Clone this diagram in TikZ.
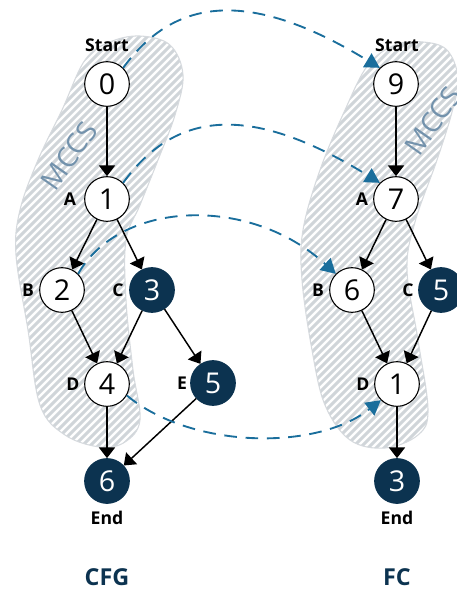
\documentclass[tikz,border=0pt]{standalone}
\usepackage{fontspec}
\setmainfont{Open Sans}
\usetikzlibrary{arrows.meta}
\definecolor{navy}{HTML}{0C3350}
\definecolor{linkblue}{HTML}{1A6E9C}
\definecolor{hullgray}{HTML}{D0D5D9}
\definecolor{hulledge}{HTML}{D6DADE}
\definecolor{mccsblue}{HTML}{7392AC}

\begin{document}
\begin{tikzpicture}[x=0.75pt,y=-0.75pt,
  vtx/.style={circle,draw=black,line width=0.8pt,fill=white,minimum size=33.5pt,inner sep=0pt,
    font=\fontsize{21.5}{22}\selectfont},
  dark/.style={vtx,fill=navy,draw=navy,text=white},
  tag/.style={font=\bfseries\fontsize{13.2}{14}\selectfont,inner sep=0pt},
  title/.style={font=\bfseries\fontsize{17.5}{19}\selectfont,text=navy,inner sep=0pt},
  mccs/.style={font=\fontsize{21}{22}\selectfont,text=mccsblue,inner sep=0pt,rotate=55},
  flow/.style={-{Triangle[length=8pt,width=12pt]},line width=1.1pt},
  link/.style={-{Triangle[length=11pt,width=12pt]},draw=linkblue,line width=1.4pt,
    dash pattern=on 9.5pt off 6.5pt},
  stripes/.style={draw=hullgray,line width=2.3pt}
]
\useasboundingbox (0,0) rectangle (457,590);

% ---- striped MCCS regions ----
\def\hullL{plot[smooth cycle,tension=0.6] coordinates {
  (140,36) (170,45) (183,75) (175,115) (158,160) (140,205) (126,240) (126,300)
  (133,370) (140,420) (125,442) (100,447) (65,435) (40,405) (28,330) (16,255)
  (20,210) (38,160) (62,110) (85,60) (110,42)}}
\def\hullR{plot[smooth cycle,tension=0.6] coordinates {
  (423,42) (447,50) (458,78) (452,112) (437,160) (415,222) (407,270) (418,340)
  (428,410) (418,435) (385,448) (350,440) (325,405) (312,350) (302,280) (303,230)
  (320,170) (345,110) (368,65) (395,45)}}

\foreach \hull in {\hullL,\hullR}{
  \fill[white] \hull;
  \begin{scope}
    \clip \hull;
    \foreach \k in {-60,...,130}
      \draw[stripes] (\k*8,600) -- (\k*8+600,0);
  \end{scope}
  \draw[hulledge,line width=0.8pt] \hull;
}

\node[mccs] (mL) at (69,156) {MCCS};
\node[mccs] (mR) at (433,121) {MCCS};

% ---- CFG ----
\node[vtx]  (c0) at (107,84)  {0};
\node[vtx]  (c1) at (107,199) {1};
\node[vtx]  (c2) at (62,290)  {2};
\node[dark] (c3) at (152,290) {3};
\node[vtx]  (c4) at (107,384) {4};
\node[dark] (c5) at (213,383) {5};
\node[dark] (c6) at (107,481) {6};

\node[tag] (cs) at (107,45)  {Start};
\node[tag] (ce) at (107,518) {End};
\node[tag] (cA) at (70,199)  {A};
\node[tag] (cB) at (28,290)  {B};
\node[tag] (cC) at (118,290) {C};
\node[tag] (cD) at (73,384)  {D};
\node[tag] (cE) at (182,383) {E};

\draw[flow] (c0) -- (c1);
\draw[flow] (c1) -- (c2);
\draw[flow] (c1) -- (c3);
\draw[flow] (c2) -- (c4);
\draw[flow] (c3) -- (c4);
\draw[flow] (c3) -- (c5);
\draw[flow] (c4) -- (c6);
\draw[flow] (c5) -- (c6);

% ---- FC ----
\node[vtx]  (f9) at (396,84)  {9};
\node[vtx]  (f7) at (396,199) {7};
\node[vtx]  (f6) at (352,290) {6};
\node[dark] (f5) at (441,290) {5};
\node[vtx]  (f1) at (397,384) {1};
\node[dark] (f3) at (397,481) {3};

\node[tag] (fs) at (397,45)  {Start};
\node[tag] (fe) at (397,518) {End};
\node[tag] (fA) at (362,199) {A};
\node[tag] (fB) at (318,290) {B};
\node[tag] (fC) at (408,290) {C};
\node[tag] (fD) at (363,384) {D};

\draw[flow] (f9) -- (f7);
\draw[flow] (f7) -- (f6);
\draw[flow] (f7) -- (f5);
\draw[flow] (f6) -- (f1);
\draw[flow] (f5) -- (f1);
\draw[flow] (f1) -- (f3);

% ---- correspondences ----
\draw[link] (c0.45)  .. controls (180,-10) and (260,-5) .. (f9.135);
\draw[link] (c1.45)  .. controls (180,104) and (260,109) .. (f7.135);
\draw[link] (c2.45)  .. controls (120,200) and (250,195) .. (f6.135);
\draw[link] (c4.-30) .. controls (190,448) and (315,452) .. (f1.225);

% ---- titles ----
\node[title] (tc) at (107,577) {CFG};
\node[title] (tf) at (397,577) {FC};
\end{tikzpicture}
\end{document}
